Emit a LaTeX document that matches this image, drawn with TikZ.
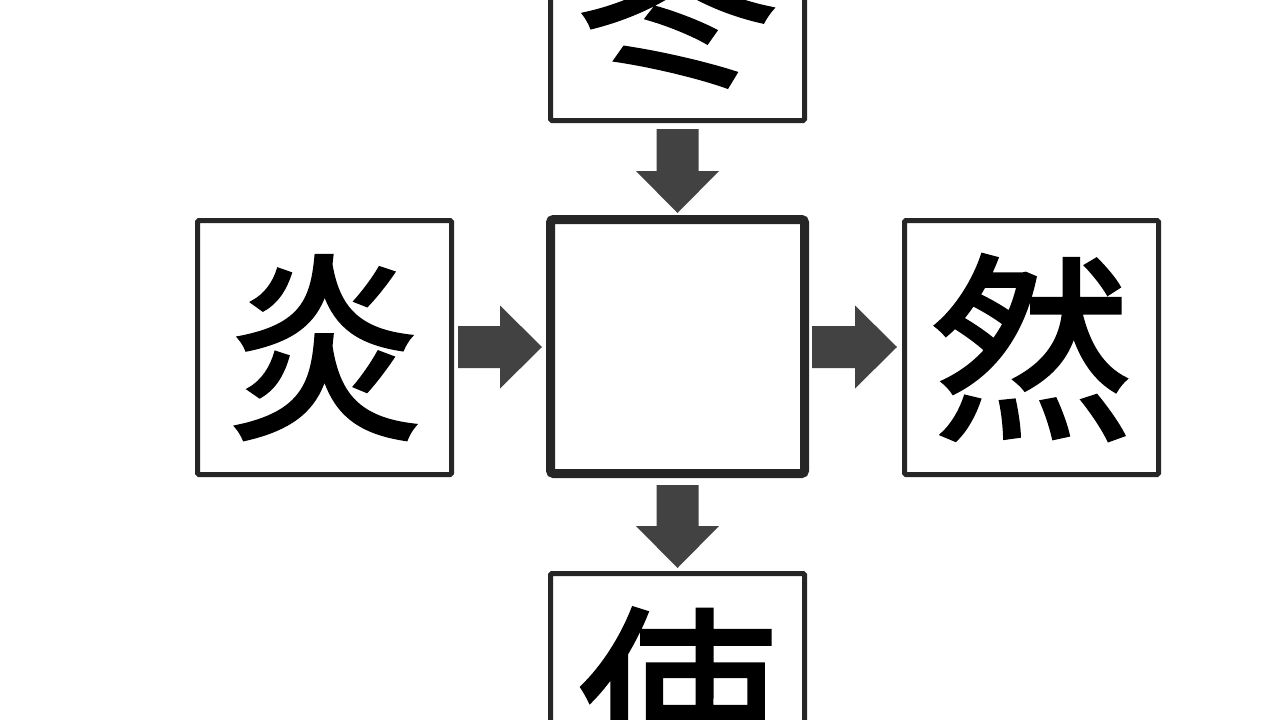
\documentclass[tikz,border=0pt]{standalone}
\usepackage{fontspec}
\newfontfamily\cjk[FakeBold=1.6]{Noto Sans CJK JP}
\usetikzlibrary{calc}
\definecolor{boxline}{HTML}{262626}
\definecolor{arrowfill}{HTML}{424242}
\tikzset{
  kbox/.style={draw=boxline, line width=5pt, rounded corners=1.5pt, minimum size=254pt, inner sep=0pt, outer sep=0pt, fill=white,
    font=\cjk\fontsize{200}{200}\selectfont},
  centerbox/.style={kbox, line width=9pt, rounded corners=3pt},
  fatarrow/.style={fill=arrowfill, draw=none}
}
% horizontal block arrow from #1 to #2 (tip at #2)
\newcommand\myHArrow[2]{%
  \fill[fatarrow] ($(#1)+(0,21)$) -- ($(#2)+(-42,21)$) -- ($(#2)+(-42,41.5)$) -- (#2)
    -- ($(#2)+(-42,-41.5)$) -- ($(#2)+(-42,-21)$) -- ($(#1)+(0,-21)$) -- cycle;}
% vertical (downward) block arrow from #1 to #2 (tip at #2)
\newcommand\myVArrow[2]{%
  \fill[fatarrow] ($(#1)+(-21,0)$) -- ($(#2)+(-21,42)$) -- ($(#2)+(-41.5,42)$) -- (#2)
    -- ($(#2)+(41.5,42)$) -- ($(#2)+(21,42)$) -- ($(#1)+(21,0)$) -- cycle;}
\begin{document}
\begin{tikzpicture}[x=1pt,y=1pt]
\useasboundingbox (0,-720) rectangle (1280,0);
\clip (0,-720) rectangle (1280,0);
\node[centerbox] (C) at (677.5,-346.5) {};
\node[kbox] (L) at (324.5,-347.5) {炎};
\node[kbox] (R) at (1031.5,-347.5) {然};
\node[kbox] (T) at (677.5,6.5) {冬};
\node[kbox] (B) at (677.5,-700.5) {使};
% connectors
\coordinate (a1) at ($(L.east |- C.west)+(6.5,-0.5)$);
\coordinate (b1) at ($(C.west)+(-8.5,-0.5)$);
\myHArrow{a1}{b1}
\coordinate (a2) at ($(C.east)+(7.5,-0.5)$);
\coordinate (b2) at ($(R.west |- C.east)+(-7.5,-0.5)$);
\myHArrow{a2}{b2}
\coordinate (a3) at ($(T.south)+(0,-8.5)$);
\coordinate (b3) at ($(C.north)+(0,6.5)$);
\myVArrow{a3}{b3}
\coordinate (a4) at ($(C.south)+(0,-11.5)$);
\coordinate (b4) at ($(B.north)+(0,5.5)$);
\myVArrow{a4}{b4}
\end{tikzpicture}
\end{document}
